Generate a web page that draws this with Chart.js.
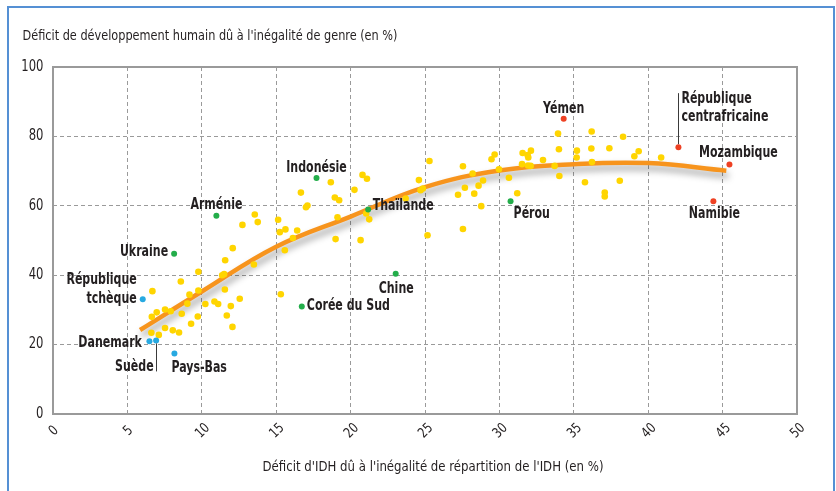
<!DOCTYPE html>
<html>
<head>
<meta charset="utf-8">
<script src="https://cdn.jsdelivr.net/npm/chart.js@4.4.0/dist/chart.umd.min.js"></script>
<style>
  html, body { margin: 0; padding: 0; background: #fff; }
  #wrap { position: relative; width: 836px; height: 491px; overflow: hidden; }
  #frame { position: absolute; left: 7px; top: 6px; width: 824px; height: 520px; border: 2px solid #5590d4; }
  canvas { position: absolute; left: 0; top: 0; }
</style>
</head>
<body>
<div id="wrap">
  <div id="frame"></div>
  <canvas id="chart" width="836" height="491"></canvas>
</div>
<script>
"use strict";

// ── Data ──────────────────────────────────────────────────────
const yellowX = [
  13.56, 13.76, 12.73, 12.08, 11.57, 13.50, 9.77, 8.59, 11.37, 11.50,
  11.55, 6.68, 9.17, 9.77, 12.55, 9.03, 10.24, 10.85, 11.10, 11.95,
  7.53, 7.91, 6.97, 6.64, 8.65, 9.73, 11.68, 9.28, 12.06, 7.53,
  8.05, 8.47, 6.61, 7.11,
  15.13, 15.24, 15.62, 16.41, 16.12, 15.58, 18.99, 20.67, 15.31,
  20.80, 21.10, 18.67, 16.66, 20.26, 18.94, 19.23, 17.10, 17.00, 24.59,
  24.86, 24.70, 25.30, 25.17, 21.05, 21.25, 19.12, 23.70,
  33.94, 36.20, 27.55, 29.68, 29.47, 31.56, 32.12, 31.90, 31.94, 31.52,
  31.92, 32.10, 32.93, 34.00, 33.71, 35.21, 35.19, 36.18, 36.22, 34.03,
  35.75, 28.20, 29.97, 28.90, 28.60, 27.68, 27.22, 28.31, 30.64, 31.20,
  28.78, 27.55, 38.31, 37.39, 39.36, 39.07, 40.87, 38.09, 37.08, 37.08
];
const yellowY = [
  57.5, 55.3, 54.5, 47.8, 44.3, 43.1, 41.0, 38.2, 40.0, 40.3,
  35.9, 35.4, 34.4, 35.6, 33.2, 31.8, 31.7, 32.4, 31.7, 31.1,
  30.1, 29.6, 29.3, 28.0, 28.9, 28.1, 28.4, 26.0, 25.1, 24.8,
  24.1, 23.5, 23.4, 22.8,
  56.0, 52.4, 53.2, 52.9, 50.7, 47.2, 50.4, 50.1, 34.5,
  68.9, 67.8, 66.8, 63.8, 64.6, 62.4, 61.6, 60.1, 59.6, 67.4,
  65.0, 64.5, 72.9, 51.5, 57.8, 56.1, 56.7, 62.1,
  80.8, 81.4, 71.4, 74.8, 73.4, 75.2, 75.9, 74.6, 73.9, 72.0,
  71.6, 71.5, 73.2, 76.3, 71.5, 75.9, 73.9, 76.5, 72.6, 68.6,
  66.8, 69.3, 70.5, 67.3, 65.8, 65.2, 63.2, 63.5, 68.1, 63.6,
  59.9, 53.3, 79.9, 76.6, 75.7, 74.3, 73.9, 67.2, 63.8, 62.7
];

const greenNames = ["Arménie", "Ukraine", "Indonésie", "Thaïlande", "Chine", "Corée du Sud", "Pérou"];
const greenX = [10.98, 8.14, 17.71, 21.18, 23.03, 16.72, 30.75];
const greenY = [57.1, 46.2, 68.0, 58.9, 40.4, 31.0, 61.3];

const blueNames = ["République\ntchèque", "Danemark", "Suède", "Pays-Bas"];
const blueX = [6.03, 6.48, 6.93, 8.16];
const blueY = [33.1, 21.0, 21.2, 17.4];

const redNames = ["Yémen", "République\ncentrafricaine", "Mozambique", "Namibie"];
const redX = [34.32, 42.03, 45.46, 44.38];
const redY = [85.1, 76.9, 71.9, 61.3];

const trendX = [5.85, 10, 15, 20, 25, 30, 35, 40, 45.25];
const trendY = [24.2, 35.3, 48.2, 56.9, 65.4, 70.2, 72.0, 72.3, 70.1];

const xTicks = [0, 5, 10, 15, 20, 25, 30, 35, 40, 45, 50];
const yTicks = [0, 20, 40, 60, 80, 100];

const yTitle = "Déficit de développement humain dû à l'inégalité de genre (en %)";
const xTitle = "Déficit d'IDH dû à l'inégalité de répartition de l'IDH (en %)";

// ── Styles ────────────────────────────────────────────────────
const COL = {
  yellow: "#ffd500",
  green:  "#23ad4a",
  blue:   "#27a9e1",
  red:    "#ee4123",
  trend:  "#f7941d",
  grid:   "#9a9a9a",
  text:   "#231f20",
};
const FONT = "'Liberation Sans Narrow', 'Arial Narrow', 'DejaVu Sans Condensed', sans-serif";

// label placement relative to its point (px)
const LABEL_POS = {
  "Arménie":                    { dx: 0,    dy: -11,  align: "center" },
  "Ukraine":                    { dx: -6,   dy: -1.5, align: "right" },
  "Indonésie":                  { dx: 0,    dy: -10.5, align: "center" },
  "Thaïlande":                  { dx: 4.5,  dy: -4,   align: "left" },
  "Chine":                      { dx: 0.5,  dy: 15,   align: "center" },
  "Corée du Sud":               { dx: 5,    dy: 0,    align: "left" },
  "Pérou":                      { dx: 3,    dy: 12.5, align: "left" },
  "République\ntchèque":        { dx: -6,   dy: -19,  align: "right" },
  "Danemark":                   { dx: -7.5, dy: 1.5,  align: "right" },
  "Suède":                      { dx: -2.5, dy: 26.5, align: "right", lead: [3, 31] },
  "Pays-Bas":                   { dx: -3,   dy: 14,   align: "left" },
  "Yémen":                      { dx: 0,    dy: -10,  align: "center" },
  "République\ncentrafricaine": { dx: 3,    dy: -48.5, align: "left", lead: [-54, -3] },
  "Mozambique":                 { dx: 9,    dy: -12,  align: "center" },
  "Namibie":                    { dx: 1,    dy: 12.5, align: "center" },
};

const pts = (xs, ys) => xs.map((x, i) => ({ x, y: ys[i] }));

// squeeze text horizontally (no narrow font installed)
function narrowText(ctx, text, x, y, align, sx) {
  ctx.save();
  ctx.translate(x, y);
  ctx.scale(sx, 1);
  ctx.textAlign = align;
  ctx.fillText(text, 0, 0);
  ctx.restore();
}

// ── Plugins ───────────────────────────────────────────────────
const shadowPlugin = {
  id: "trendShadow",
  beforeDatasetDraw(chart, args) {
    if (chart.data.datasets[args.index].label !== "trend") return;
    const ctx = chart.ctx;
    ctx.save();
    ctx.shadowColor = "rgba(0,0,0,0.38)";
    ctx.shadowBlur = 7;
    ctx.shadowOffsetX = 2;
    ctx.shadowOffsetY = 5;
  },
  afterDatasetDraw(chart, args) {
    if (chart.data.datasets[args.index].label !== "trend") return;
    chart.ctx.restore();
  },
};

const framePlugin = {
  id: "frameAndText",
  beforeDatasetsDraw(chart) {
    const { ctx, chartArea: a } = chart;
    ctx.save();
    ctx.strokeStyle = COL.grid;
    ctx.lineWidth = 2;
    ctx.strokeRect(a.left, a.top, a.right - a.left, a.bottom - a.top);
    ctx.restore();
  },
  afterDraw(chart) {
    const { ctx, scales } = chart;
    ctx.save();
    ctx.fillStyle = COL.text;
    ctx.textBaseline = "middle";

    // titles
    ctx.font = `14px ${FONT}`;
    ctx.textAlign = "left";
    ctx.fillText(yTitle, 22.5, 36, 375);
    ctx.textAlign = "center";
    ctx.fillText(xTitle, 433, 467, 341);

    // y tick labels
    ctx.font = `15px ${FONT}`;
    yTicks.forEach(v => narrowText(ctx, String(v), 43.5, scales.y.getPixelForValue(v), "right", 0.86));

    // x tick labels, rotated
    ctx.font = `14px ${FONT}`;
    ctx.textAlign = "center";
    xTicks.forEach(v => {
      ctx.save();
      ctx.translate(scales.x.getPixelForValue(v) + 1, 431);
      ctx.rotate(-Math.PI / 4);
      ctx.scale(0.88, 1);
      ctx.fillText(String(v), 0, 0);
      ctx.restore();
    });

    // point labels
    ctx.font = `bold 15.5px ${FONT}`;
    chart.data.datasets.forEach((ds, di) => {
      if (!ds.names) return;
      const meta = chart.getDatasetMeta(di);
      ds.names.forEach((name, j) => {
        const p = meta.data[j];
        const s = LABEL_POS[name];
        if (!p || !s) return;
        name.split("\n").forEach((line, k) => {
          narrowText(ctx, line, p.x + s.dx, p.y + s.dy + k * 18.5, s.align, 0.79);
        });
        if (s.lead) {
          ctx.strokeStyle = "#3a3a3a";
          ctx.lineWidth = 1;
          ctx.beginPath();
          ctx.moveTo(Math.round(p.x) + 0.5, p.y + s.lead[0]);
          ctx.lineTo(Math.round(p.x) + 0.5, p.y + s.lead[1]);
          ctx.stroke();
        }
      });
    });
    ctx.restore();
  },
};

// ── Chart ─────────────────────────────────────────────────────
const edgeTransparent = (lo, hi) => (c) =>
  c.tick && (c.tick.value === lo || c.tick.value === hi) ? "rgba(0,0,0,0)" : COL.grid;

new Chart(document.getElementById("chart"), {
  type: "scatter",
  data: {
    datasets: [
      { label: "red",    names: redNames,   data: pts(redX, redY),     backgroundColor: COL.red,   pointRadius: 3, borderWidth: 0 },
      { label: "blue",   names: blueNames,  data: pts(blueX, blueY),   backgroundColor: COL.blue,  pointRadius: 3, borderWidth: 0 },
      { label: "green",  names: greenNames, data: pts(greenX, greenY), backgroundColor: COL.green, pointRadius: 3, borderWidth: 0 },
      { label: "yellow", data: pts(yellowX, yellowY), backgroundColor: COL.yellow, pointRadius: 3.3, borderWidth: 0 },
      {
        label: "trend",
        type: "line",
        data: pts(trendX, trendY),
        borderColor: COL.trend,
        borderWidth: 4.5,
        pointRadius: 0,
        tension: 0.4,
        fill: false,
        borderCapStyle: "butt",
      },
    ],
  },
  options: {
    responsive: false,
    devicePixelRatio: 1,
    animation: false,
    layout: { padding: { left: 53, right: 39, top: 67, bottom: 77 } },
    plugins: { legend: { display: false }, tooltip: { enabled: false } },
    scales: {
      x: {
        type: "linear", min: 0, max: 50,
        ticks: { display: false, stepSize: 5 },
        grid: { color: edgeTransparent(0, 50), drawTicks: false, lineWidth: 1 },
        border: { display: false, dash: [4, 3] },
        afterFit(s) { s.height = 0; },
      },
      y: {
        type: "linear", min: 0, max: 100,
        ticks: { display: false, stepSize: 20 },
        grid: { color: edgeTransparent(0, 100), drawTicks: false, lineWidth: 1 },
        border: { display: false, dash: [4, 3] },
        afterFit(s) { s.width = 0; },
      },
    },
  },
  plugins: [shadowPlugin, framePlugin],
});
</script>
</body>
</html>
